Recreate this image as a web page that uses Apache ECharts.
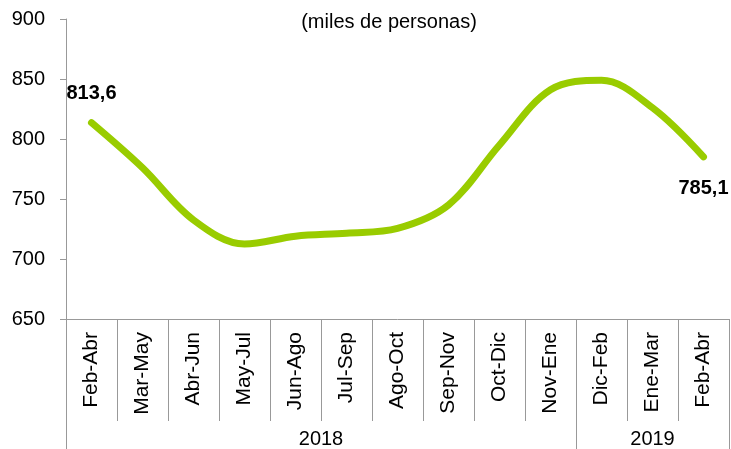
<!DOCTYPE html>
<html>
<head>
<meta charset="utf-8">
<script src="https://cdn.jsdelivr.net/npm/echarts@6/dist/echarts.min.js"></script>
<style>html,body{margin:0;padding:0;background:#fff}#c{width:731px;height:449px}</style>
</head>
<body>
<div id="c"></div>
<script>
var categories = ['Feb-Abr','Mar-May','Abr-Jun','May-Jul','Jun-Ago','Jul-Sep','Ago-Oct','Sep-Nov','Oct-Dic','Nov-Ene','Dic-Feb','Ene-Mar','Feb-Abr'];
var values = [813.6, 776, 732.5, 712.5, 719, 721.5, 725.5, 745, 795, 841, 849, 826, 785.1];
var years = ['2018', '2019'];
var yearSpans = [10, 3];
var yTicks = [650, 700, 750, 800, 850, 900];

// half-step year axis (points at 0, 0.5, ..., 13 category units)
var nHalf = categories.length * 2 + 1;
var yearAxisData = [];
var yearLabelIdx = {};
var yearTickIdx = {0: true};
var start = 0;
for (var i = 0; i < years.length; i++) {
  yearLabelIdx[start * 2 + yearSpans[i]] = years[i];
  start += yearSpans[i];
  yearTickIdx[start * 2] = true;
}
for (var k = 0; k < nHalf; k++) yearAxisData.push(yearLabelIdx[k] || '');

var chart = echarts.init(document.getElementById('c'));
var font = 'Liberation Sans, Arial, sans-serif';
chart.setOption({
  animation: false,
  title: {
    text: '(miles de personas)',
    left: 384, top: 7, textAlign: 'center',
    textStyle: {fontFamily: font, fontSize: 20, fontWeight: 'normal', color: '#000'}
  },
  grid: {left: 66, right: 2, top: 19, bottom: 130},
  xAxis: [{
    type: 'category',
    data: categories,
    boundaryGap: true,
    axisLine: {lineStyle: {color: '#999', width: 1}},
    axisTick: {show: true, length: 102, lineStyle: {color: '#999'}},
    axisLabel: {rotate: 90, margin: 13, fontFamily: font, fontSize: 21, color: '#000', interval: 0}
  }, {
    type: 'category',
    data: yearAxisData,
    boundaryGap: false,
    position: 'bottom',
    offset: 102,
    axisLine: {show: false},
    axisTick: {show: true, length: 28, lineStyle: {color: '#999'},
      interval: function (idx) { return !!yearTickIdx[idx]; }},
    axisLabel: {fontFamily: font, fontSize: 20, color: '#000', margin: 8,
      interval: function (idx, val) { return val !== ''; }}
  }],
  yAxis: {
    type: 'value', min: 650, max: 900, interval: 50,
    axisLine: {show: true, lineStyle: {color: '#999'}},
    axisTick: {show: true, length: 6, lineStyle: {color: '#999'}},
    splitLine: {show: false},
    axisLabel: {fontFamily: font, fontSize: 20, color: '#000', margin: 21,
      formatter: function (v) { return yTicks.indexOf(v) >= 0 ? String(v) : ''; }}
  },
  series: [{
    type: 'line',
    data: values.map(function (v, i) {
      var d = {value: v};
      if (i === 0) d.label = {show: true, position: 'top', distance: 19};
      if (i === values.length - 1) d.label = {show: true, position: 'bottom', distance: 21};
      return d;
    }),
    xAxisIndex: 0,
    smooth: 0.35,
    showSymbol: true,
    symbol: 'circle',
    symbolSize: 1,
    itemStyle: {color: 'rgba(0,0,0,0)'},
    lineStyle: {color: '#99CC00', width: 7, cap: 'round'},
    label: {show: false, fontFamily: font, fontSize: 20, fontWeight: 'bold', color: '#000',
      formatter: function (p) { return String(p.value).replace('.', ','); }}
  }]
});
</script>
</body>
</html>
